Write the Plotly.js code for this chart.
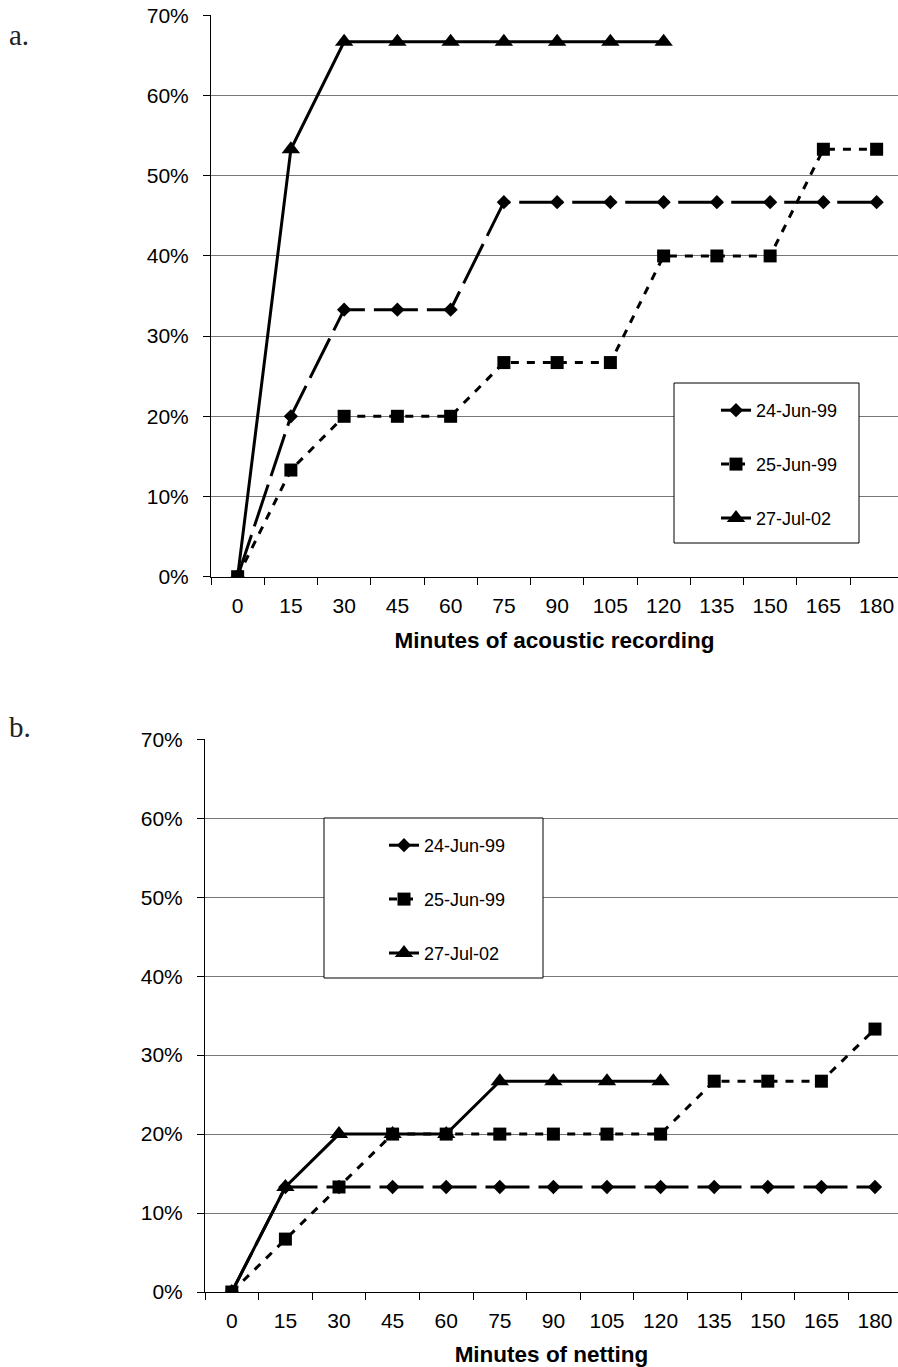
<!DOCTYPE html>
<html>
<head>
<meta charset="utf-8">
<script src="https://cdn.plot.ly/plotly-3.0.1.min.js"></script>
<style>
html,body{margin:0;padding:0;background:#fff;overflow:hidden;}
#chart{width:898px;height:1367px;}
</style>
</head>
<body>
<div id="chart"></div>
<script>
// Categories (minutes)
var minutes = ['0','15','30','45','60','75','90','105','120','135','150','165','180'];
var seriesNames = ['24-Jun-99','25-Jun-99','27-Jul-02'];

// Panel a: acoustic recording (% of species)
var acoustic_jun24 = [0, 20, 33.3, 33.3, 33.3, 46.7, 46.7, 46.7, 46.7, 46.7, 46.7, 46.7, 46.7];
var acoustic_jun25 = [0, 13.3, 20, 20, 20, 26.7, 26.7, 26.7, 40, 40, 40, 53.3, 53.3];
var acoustic_jul27 = [0, 53.3, 66.7, 66.7, 66.7, 66.7, 66.7, 66.7, 66.7];

// Panel b: netting (% of species)
var netting_jun24 = [0, 13.3, 13.3, 13.3, 13.3, 13.3, 13.3, 13.3, 13.3, 13.3, 13.3, 13.3, 13.3];
var netting_jun25 = [0, 6.7, 13.3, 20, 20, 20, 20, 20, 20, 26.7, 26.7, 26.7, 33.3];
var netting_jul27 = [0, 13.3, 20, 20, 20, 26.7, 26.7, 26.7, 26.7];

var styles = [
  {dash:'44px,9px', symbol:'diamond', size:11},
  {dash:'8px,8px', symbol:'square', size:13},
  {dash:'solid', symbol:'triangle-up', size:16}
];

function mk(vals, i, xa, ya, leg){
  return {
    type:'scatter', mode:'lines+markers',
    x: minutes.slice(0, vals.length),
    y: vals.map(function(v){return v/100;}),
    name: seriesNames[i],
    xaxis: xa, yaxis: ya,
    legend: leg, legendgroup: leg + i,
    line:{color:'#000', width:3, dash:styles[i].dash},
    marker:{color:'#000', symbol:styles[i].symbol, size:styles[i].size, line:{width:0}},
    hoverinfo:'skip'
  };
}

var data = [
  mk(acoustic_jun24,0,'x','y','legend'),
  mk(acoustic_jun25,1,'x','y','legend'),
  mk(acoustic_jul27,2,'x','y','legend'),
  mk(netting_jun24,0,'x2','y2','legend2'),
  mk(netting_jun25,1,'x2','y2','legend2'),
  mk(netting_jul27,2,'x2','y2','legend2')
];

var W = 898, H = 1367;
var tickFont = {family:'Liberation Sans, Arial, sans-serif', size:21, color:'#000'};
var titleFont = {family:'Liberation Sans, Arial, sans-serif', size:22.5, color:'#000', weight:'bold'};

function xax(left, step, title){
  return {
    type:'category', categoryorder:'array', categoryarray:minutes,
    domain:[left/W, 1], range:[-0.5, -0.5 + (W-left)/step],
    tickson:'boundaries', ticks:'outside', ticklen:7, tickcolor:'#000', tickwidth:1,
    showline:true, linecolor:'#000', linewidth:1, showgrid:false, zeroline:false,
    tickfont:tickFont, ticklabelstandoff:10,
    title:{text:title, font:titleFont, standoff:16},
    fixedrange:true
  };
}
function yax(top, bottom, anchor){
  return {
    domain:[(H-bottom)/H, (H-top)/H], range:[0,0.7], dtick:0.1, tick0:0,
    tickformat:'.0%', ticks:'outside', ticklen:7, tickcolor:'#000',
    showline:true, linecolor:'#000', linewidth:1,
    showgrid:true, gridcolor:'#777', gridwidth:1, zeroline:false,
    tickfont:tickFont, ticklabelstandoff:10, anchor:anchor, fixedrange:true
  };
}

var legFont = {family:'Liberation Sans, Arial, sans-serif', size:18, color:'#000'};

var layout = {
  width:W, height:H, margin:{l:0,r:0,t:0,b:0},
  paper_bgcolor:'#fff', plot_bgcolor:'#fff',
  font:{family:'Liberation Sans, Arial, sans-serif', color:'#000'},
  xaxis: Object.assign(xax(211, 53.25, 'Minutes of acoustic recording'), {anchor:'y'}),
  yaxis: yax(15.3, 576.7, 'x'),
  xaxis2: Object.assign(xax(205, 53.6, 'Minutes of netting'), {anchor:'y2'}),
  yaxis2: yax(739.3, 1292, 'x2'),
  showlegend:true,
  legend:{x:716/W, y:(H-392)/H, xanchor:'left', yanchor:'top', bgcolor:'rgba(0,0,0,0)', borderwidth:0,
    font:legFont, traceorder:'grouped', tracegroupgap:27.5},
  legend2:{x:384/W, y:(H-827)/H, xanchor:'left', yanchor:'top', bgcolor:'rgba(0,0,0,0)', borderwidth:0,
    font:legFont, traceorder:'grouped', tracegroupgap:27.5},
  shapes:[
    {type:'rect', xref:'paper', yref:'paper', x0:674/W, x1:859/W, y0:(H-543)/H, y1:(H-383)/H,
     fillcolor:'#fff', line:{color:'#000', width:1}, layer:'above'},
    {type:'rect', xref:'paper', yref:'paper', x0:324/W, x1:543/W, y0:(H-978)/H, y1:(H-818)/H,
     fillcolor:'#fff', line:{color:'#000', width:1}, layer:'above'}
  ],
  annotations:[
    {text:'a.', xref:'paper', yref:'paper', x:7/W, y:(H-35)/H, xanchor:'left', yanchor:'middle', showarrow:false,
     font:{family:'Liberation Serif, serif', size:29, color:'#222'}},
    {text:'b.', xref:'paper', yref:'paper', x:7/W, y:(H-727)/H, xanchor:'left', yanchor:'middle', showarrow:false,
     font:{family:'Liberation Serif, serif', size:29, color:'#222'}}
  ]
};

Plotly.newPlot('chart', data, layout, {displayModeBar:false, staticPlot:true});
</script>
</body>
</html>
